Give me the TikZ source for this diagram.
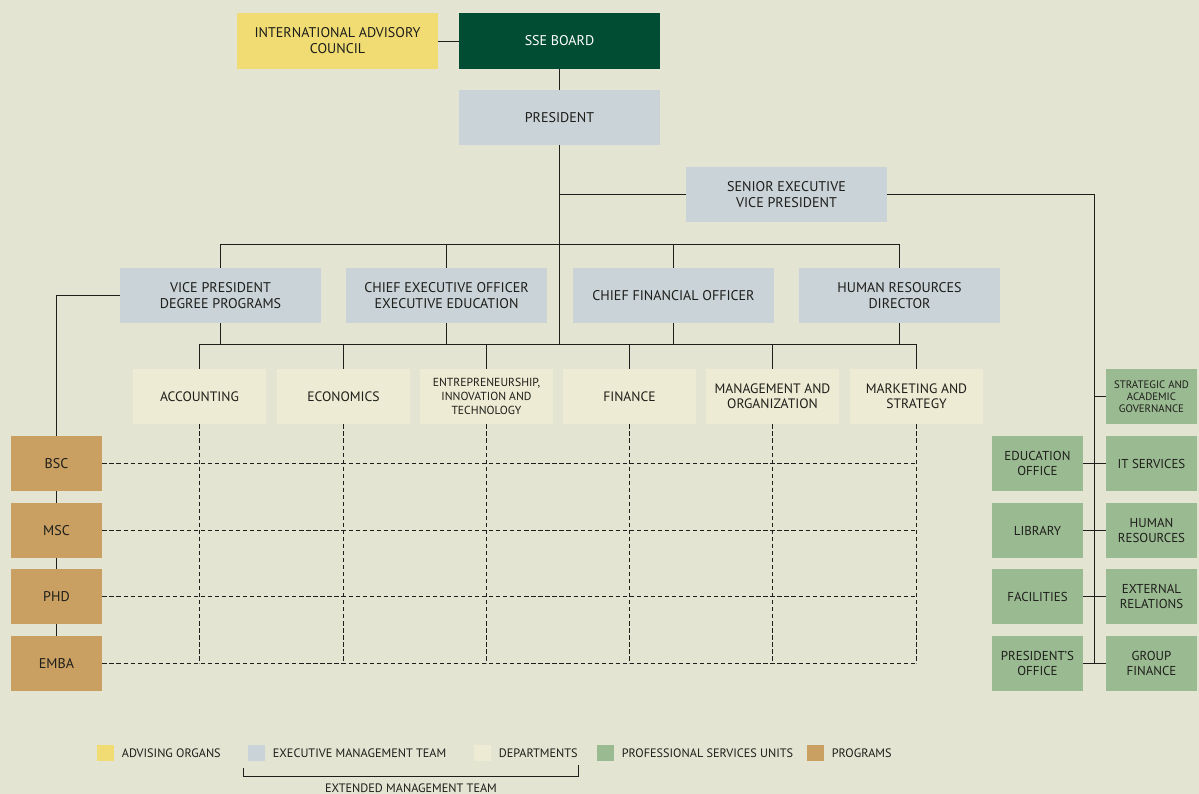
\documentclass[tikz,border=0pt]{standalone}
\usepackage{fontspec}
\setmainfont{PT Sans}
\usetikzlibrary{positioning,calc}
\definecolor{bgcol}{HTML}{E3E4D2}
\definecolor{inkcol}{HTML}{1E1E1A}
\definecolor{advcol}{HTML}{F0DC73}
\definecolor{boardcol}{HTML}{004D33}
\definecolor{execcol}{HTML}{C9D3D8}
\definecolor{deptcol}{HTML}{EDEBD3}
\definecolor{svccol}{HTML}{9ABA92}
\definecolor{progcol}{HTML}{C9A062}
\begin{document}
\begin{tikzpicture}[x=0.025cm, y=-0.025cm, line width=0.6pt, draw=inkcol]
	\tikzstyle{every node}=[font=\fontsize{10}{11.3}\selectfont, text=inkcol, align=center, inner sep=0pt]
	\tikzstyle{bigbox}=[minimum width=5.025cm, minimum height=1.375cm]
	\tikzstyle{execbox}=[bigbox, fill=execcol]
	\tikzstyle{deptbox}=[minimum width=3.325cm, minimum height=1.375cm, fill=deptcol, font=\fontsize{9.7}{10.8}\selectfont]
	\tikzstyle{progbox}=[minimum width=2.275cm, minimum height=1.375cm, fill=progcol]
	\tikzstyle{svcbox}=[minimum width=2.275cm, minimum height=1.375cm, fill=svccol, font=\fontsize{9.2}{10.6}\selectfont]
	\tikzstyle{matrixline}=[dash pattern=on 3pt off 2pt]
	\tikzstyle{legsq}=[minimum width=0.425cm, minimum height=0.4cm]
	\tikzstyle{legtxt}=[right=0.175cm, font=\fontsize{8.7}{10}\selectfont]
	\fill [bgcol] (0,0) rectangle (1199,794);
	\useasboundingbox (0,0) rectangle (1199,794);
	% top of the chart
	\node [bigbox, fill=advcol] (iac) at (337.5,41) {INTERNATIONAL ADVISORY\\COUNCIL};
	\node [bigbox, fill=boardcol, text=white] (board) at (559.5,41) {SSE BOARD};
	\node [execbox] (pres) at (559.5,117.5) {PRESIDENT};
	\node [execbox] (svp) at (786.5,194.5) {SENIOR EXECUTIVE\\VICE PRESIDENT};
	\node [execbox] (vp) at (220.5,295.5) {VICE PRESIDENT\\DEGREE PROGRAMS};
	\node [execbox] (ceo) at (446.5,295.5) {CHIEF EXECUTIVE OFFICER\\EXECUTIVE EDUCATION};
	\node [execbox] (cfo) at (673.5,295.5) {CHIEF FINANCIAL OFFICER};
	\node [execbox] (hrd) at (899.5,295.5) {HUMAN RESOURCES\\DIRECTOR};
	\coordinate (topbus) at (0,244);
	\coordinate (deptbus) at (0,344);
	% departments
	\node [deptbox] (acc) at (199.5,396.5) {ACCOUNTING};
	\node [deptbox] (eco) at (343.5,396.5) {ECONOMICS};
	\node [deptbox, font=\fontsize{8.3}{9.9}\selectfont] (eit) at (486.5,396.5) {ENTREPRENEURSHIP,\\INNOVATION AND\\TECHNOLOGY};
	\node [deptbox] (fin) at (629.5,396.5) {FINANCE};
	\node [deptbox] (mgt) at (772.5,396.5) {MANAGEMENT AND\\ORGANIZATION};
	\node [deptbox] (mkt) at (916.5,396.5) {MARKETING AND\\STRATEGY};
	% programs
	\node [progbox] (bsc) at (56.5,463.5) {BSC};
	\node [progbox] (msc) at (56.5,530.5) {MSC};
	\node [progbox] (phd) at (56.5,596.5) {PHD};
	\node [progbox] (emba) at (56.5,663.5) {EMBA};
	% professional services units
	\node [svcbox, font=\fontsize{7.7}{8.6}\selectfont] (sag) at (1151.5,396.5) {STRATEGIC AND\\ACADEMIC\\GOVERNANCE};
	\node [svcbox] (edu) at (1037.5,463.5) {EDUCATION\\OFFICE};
	\node [svcbox] (its) at (1151.5,463.5) {IT SERVICES};
	\node [svcbox] (lib) at (1037.5,530.5) {LIBRARY};
	\node [svcbox] (hum) at (1151.5,530.5) {HUMAN\\RESOURCES};
	\node [svcbox] (fac) at (1037.5,596.5) {FACILITIES};
	\node [svcbox] (ext) at (1151.5,596.5) {EXTERNAL\\RELATIONS};
	\node [svcbox] (pof) at (1037.5,663.5) {PRESIDENT'S\\OFFICE};
	\node [svcbox] (gfi) at (1151.5,663.5) {GROUP\\FINANCE};
	\coordinate (spine) at ($(pof.east)!0.5!(gfi.west)$);
	% lines
	\draw (iac) -- (board);
	\draw (board) -- (pres);
	\draw (pres.south) -- (pres.south |- deptbus);
	\draw (pres.south |- svp) -- (svp.west);
	\draw (svp.east) -| (spine);
	\draw (sag.west) -- (sag.west -| spine);
	\draw (edu) -- (its);
	\draw (lib) -- (hum);
	\draw (fac) -- (ext);
	\draw (pof) -- (gfi);
	\draw (vp.north) -- (vp.north |- topbus) -- (hrd.north |- topbus) -- (hrd.north);
	\foreach \n in {ceo,cfo}
		\draw (\n.north) -- (\n.north |- topbus);
	\draw (acc.north) -- (acc.north |- deptbus) -- (mkt.north |- deptbus) -- (mkt.north);
	\foreach \n in {eco,eit,fin,mgt}
		\draw (\n.north) -- (\n.north |- deptbus);
	\foreach \n in {vp,ceo,cfo,hrd}
		\draw (\n.south) -- (\n.south |- deptbus);
	\draw (vp.west) -| (bsc.north);
	\draw (bsc) -- (msc);
	\draw (msc) -- (phd);
	\draw (phd) -- (emba);
	\foreach \n in {acc,eco,eit,fin,mgt,mkt}
		\draw [matrixline] (\n.south) -- (\n.south |- emba);
	\foreach \n in {bsc,msc,phd,emba}
		\draw [matrixline] (\n.east) -- (\n.east -| mkt);
	% legend
	\node [legsq, fill=advcol] (lgadv) at (105.5,753) {};
	\node [legtxt] (lgadvt) at (lgadv.east) {ADVISING ORGANS};
	\node [legsq, fill=execcol] (lgexe) at (256.5,753) {};
	\node [legtxt] (lgexet) at (lgexe.east) {EXECUTIVE MANAGEMENT TEAM};
	\node [legsq, fill=deptcol] (lgdep) at (482.5,753) {};
	\node [legtxt] (lgdept) at (lgdep.east) {DEPARTMENTS};
	\node [legsq, fill=svccol] (lgsvc) at (605.5,753) {};
	\node [legtxt] (lgsvct) at (lgsvc.east) {PROFESSIONAL SERVICES UNITS};
	\node [legsq, fill=progcol] (lgprg) at (815.5,753) {};
	\node [legtxt] (lgprgt) at (lgprg.east) {PROGRAMS};
	\draw ([shift={(-4,7)}]lgexe.south west) -- ++(0,8) -| ([shift={(0,7)}]lgdept.south east);
	\node [font=\fontsize{8.7}{10}\selectfont] (emt) at (411,788) {EXTENDED MANAGEMENT TEAM};
\end{tikzpicture}
\end{document}
